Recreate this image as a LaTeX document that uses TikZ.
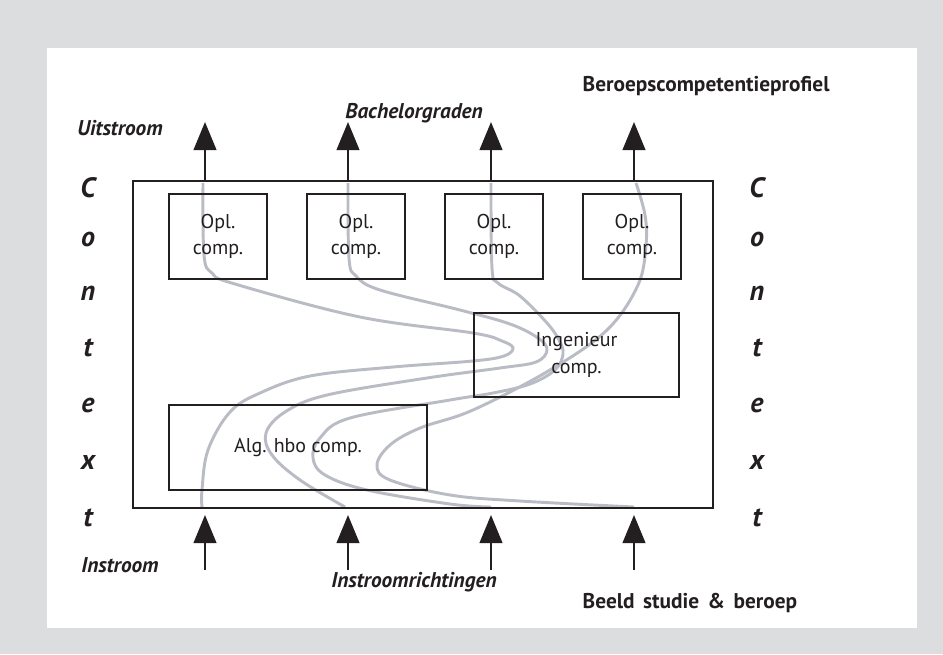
\documentclass[tikz,border=0pt]{standalone}
\usepackage{fontspec}
\setmainfont{PT Sans}
\usepackage{tikz}
\usetikzlibrary{arrows.meta}
\definecolor{panelgray}{HTML}{DCDDDF}
\definecolor{boxline}{HTML}{231F20}
\definecolor{flowgray}{HTML}{B9BCC4}
\newcommand{\plainfont}{\bfseries\fontsize{16}{18}\selectfont\spaceskip=0.4em\relax}
\tikzstyle{compbox}=[rectangle,draw=boxline,line width=1.9pt,align=center,inner sep=0pt,text=boxline,font=\fontsize{15}{20}\selectfont]
\tikzstyle{flow}=[draw=flowgray,line width=2.2pt]
\tikzstyle{stream}=[draw=boxline,line width=1.5pt,-{Triangle[width=17pt,length=21pt]}]
\tikzstyle{tag}=[font=\bfseries\itshape\fontsize{16}{18}\selectfont,text=boxline]
\tikzstyle{plaintag}=[font=\plainfont,text=boxline]
\tikzstyle{ctx}=[font=\bfseries\itshape\fontsize{21}{24}\selectfont,text=boxline]
\begin{document}
\begin{tikzpicture}[x=0.75pt,y=-0.75pt]

 \def\u{0.75pt};

 \useasboundingbox (0,0) rectangle (943,654);
 \fill[panelgray] (0,0) rectangle (943,654);
 \fill[white] (47,48) rectangle (917,628);

 %flow lines
 \draw[flow] plot[smooth,tension=0.6] coordinates {(203,183) (204,255) (212,273) (235,284) (360,317) (473,333) (502,341) (513,348) (504,356) (473,361) (393,367) (310,376) (260,393) (230,412) (208,450) (202,490) (202,507)};
 \draw[flow] plot[smooth,tension=0.6] coordinates {(348,183) (349,258) (356,276) (380,290) (460,310) (510,324) (538,338) (547,350) (536,362) (500,368) (427,378) (327,395) (285,412) (266,433) (272,455) (300,480) (345,507)};
 \draw[flow] plot[smooth,tension=0.6] coordinates {(491,183) (492,268) (498,283) (520,296) (547,323) (559,340) (563,354) (555,370) (530,384) (493,393) (450,400) (350,418) (320,438) (313,458) (325,475) (367,490) (450,504) (491,507)};
 \draw[flow] plot[smooth,tension=0.6] coordinates {(636,183) (645,215) (646,245) (638,285) (607,330) (550,370) (473,410) (420,428) (390,445) (377,465) (390,480) (450,495) (520,501) (634,507)};

 %boxes
 \node[compbox, minimum width=580*\u, minimum height=327*\u] (main) at (423,344.5) {};

 \foreach \x/\name in {218/opl1, 356/opl2, 494/opl3, 632/opl4}
   \node[compbox, minimum width=98*\u, minimum height=85*\u] (\name) at (\x,236.5) {Opl.\\comp.};

 \node[compbox, minimum width=205*\u, minimum height=84*\u] (ing) at (576.5,355) {Ingenieur\\comp.};
 \node[compbox, minimum width=258*\u, minimum height=85*\u] (alg) at (298,447.5) {Alg. hbo comp.};

 %in- and outflow
 \foreach \x/\i in {205/1, 348/2, 491/3, 634/4}{
   \coordinate (ut\i) at (\x,122);
   \draw[stream] (main.north -| ut\i) -- (ut\i);
   \coordinate (ib\i) at (\x,570);
   \coordinate (it\i) at (\x,515);
   \draw[stream] (ib\i) -- (it\i);
 }

 %labels
 \node[tag] (uit) at (120,128) {Uitstroom};
 \node[tag] (bach) at (414,113) {Bachelorgraden};
 \node[plaintag, anchor=west] (prof) at (578,86) {Beroepscompetentieprofiel};
 \node[tag] (instr) at (120,565) {Instroom};
 \node[tag] (instrr) at (414,582) {Instroomrichtingen};
 \node[plaintag, anchor=west] (beeld) at (578,603) {Beeld studie \& beroep};

 \foreach \y/\name/\label in {188/1/C, 239/2/o, 293/3/n, 348/4/t, 405/5/e, 462/6/x, 518/7/t}{
   \node[ctx] (ctxl\name) at (88,\y) {\label};
   \node[ctx] (ctxr\name) at (757,\y) {\label};
 }

\end{tikzpicture}
\end{document}
